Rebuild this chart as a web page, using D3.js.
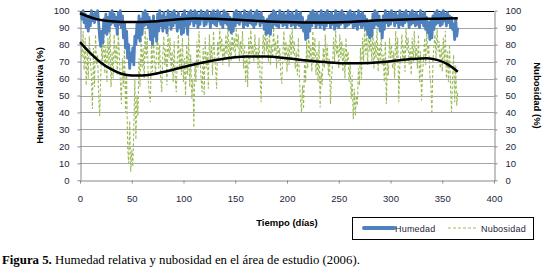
<!DOCTYPE html>
<html>
<head>
<meta charset="utf-8">
<script src="https://cdn.jsdelivr.net/npm/d3@7"></script>
<style>
  body { margin: 0; background: #fff; }
  svg { display: block; }
</style>
</head>
<body>
<div id="chart"></div>
<script>
// humedad relativa diaria (%), dias 1..365
const humedad = [
  99,95,100,93,98,90,96,88,97,91,
  100,94,98,93,99,95,100,93,84,79,
  88,81,95,87,98,86,96,88,99,92,
  100,93,98,91,96,86,99,92,100,90,
  97,84,93,78,88,72,80,66,75,70,
  78,68,85,80,92,84,97,82,95,86,
  99,91,100,92,98,90,96,83,94,80,
  97,85,93,82,98,88,100,91,97,88,
  99,90,96,87,100,92,98,89,99,91,
  100,93,97,88,99,90,96,86,98,87,
  100,91,97,86,99,92,100,94,98,91,
  100,93,99,90,97,92,100,95,98,91,
  99,92,100,94,97,90,99,93,100,92,
  98,91,100,94,99,92,97,90,100,93,
  99,92,98,89,96,87,95,88,99,91,
  100,93,98,92,99,94,97,90,100,92,
  98,91,99,93,100,92,97,90,99,92,
  100,94,98,91,99,93,96,89,94,86,
  95,87,97,86,98,90,100,92,99,91,
  97,90,100,93,98,91,99,92,97,90,
  100,93,98,91,99,92,97,90,100,92,
  98,91,99,90,96,88,93,83,94,84,
  97,88,99,91,100,93,98,90,99,92,
  97,90,100,92,98,89,99,91,100,93,
  98,90,99,92,97,89,100,91,98,90,
  99,92,100,93,98,90,97,91,99,92,
  100,93,98,90,99,91,97,89,100,92,
  98,90,99,91,97,89,95,86,93,84,
  94,85,98,90,100,92,99,91,97,88,
  93,84,97,89,100,93,98,91,99,92,
  100,94,98,91,99,93,97,90,100,92,
  98,91,99,93,100,94,97,90,99,92,
  100,93,98,91,99,92,97,90,100,93,
  98,91,99,89,96,87,93,83,94,84,
  97,89,99,92,100,93,98,91,99,92,
  100,94,98,91,99,93,97,90,96,89,
  92,83,95,85,90
]

// nubosidad diaria (%), dias 1..365
const nubosidad = [
  80,72,88,65,84,56,76,60,85,70,
  62,42,78,55,86,68,74,50,38,60,
  82,70,88,63,79,58,84,66,92,55,
  76,60,86,70,80,62,88,74,58,45,
  72,55,80,40,62,20,10,35,5,18,
  8,30,60,24,50,38,72,55,84,66,
  78,60,90,72,84,58,50,46,80,64,
  86,70,62,76,88,66,80,60,52,74,
  85,68,78,56,90,72,84,64,76,58,
  82,60,52,70,86,66,78,62,84,58,
  72,50,80,62,86,55,74,48,60,31,
  70,58,82,66,88,72,60,52,78,50,
  84,66,76,54,86,70,80,62,88,74,
  66,54,82,72,90,76,84,68,80,72,
  86,74,92,67,82,70,88,76,84,72,
  90,78,86,70,82,74,88,66,80,58,
  76,55,84,68,90,74,80,70,86,72,
  78,66,84,60,46,70,86,74,92,76,
  84,70,88,68,80,72,90,76,82,66,
  86,70,78,62,57,74,88,70,82,64,
  80,68,86,72,90,74,82,66,76,62,
  84,60,48,40,56,42,70,58,82,66,
  86,72,80,64,88,70,84,62,76,58,
  82,43,64,56,78,66,86,70,80,62,
  72,45,60,68,84,70,88,74,80,66,
  86,72,82,64,78,60,84,68,76,58,
  70,48,62,36,54,38,50,44,66,56,
  78,60,84,70,90,74,86,68,92,76,
  84,70,88,66,82,72,90,64,80,70,
  86,68,74,58,82,45,70,62,84,72,
  80,66,76,60,88,72,84,46,68,74,
  86,70,80,64,90,76,84,68,78,62,
  84,70,88,72,80,66,86,58,76,47,
  64,72,84,68,88,74,80,62,56,39,
  70,80,86,72,90,76,82,66,78,64,
  84,70,88,60,76,58,80,54,40,62,
  74,46,68,44,52
]

// lineas de tendencia (dia, valor)
const tendenciaHumedad = [
  [0,98.5],[15,95.2],[30,93.8],[50,93.3],[70,93.6],[90,94.6],[110,95.4],
  [130,95.2],[165,94.2],[200,93.3],[230,93.0],[260,93.4],[290,94.3],
  [320,95.0],[345,95.3],[365,95.6]
]
const tendenciaNubosidad = [
  [0,81.5],[10,75],[20,69.5],[30,65.5],[40,62.8],[50,61.8],[60,61.8],
  [70,62.5],[80,63.8],[90,65.2],[100,66.8],[120,69.6],[140,71.8],[160,73],
  [180,73],[200,72],[220,70.6],[240,69.5],[260,69],[280,69.2],[300,70.2],
  [320,71.5],[335,72],[345,71],[355,68.5],[365,64]
]

const xTicks = [0,50,100,150,200,250,300,350,400]
const yTicks = [0,10,20,30,40,50,60,70,80,90,100]

const width = 548
const height = 271
const plot = { left: 80, right: 494, top: 10.7, bottom: 180.3 }

const svg = d3.select("#chart").append("svg")
  .attr("width", width)
  .attr("height", height)
  .style("font-family", "'Liberation Sans', Arial, sans-serif")

const x = d3.scaleLinear().domain([0, 400]).range([plot.left, plot.right])
const yL = d3.scaleLinear().domain([0, 100]).range([plot.bottom, plot.top])
const yR = d3.scaleLinear().domain([0, 100]).range([plot.bottom, plot.top])

const axisGray = "#888"
const labelColor = "#1e1e3c"

// gridlines
svg.append("g").selectAll("line")
  .data(yTicks.filter(d => d > 0))
  .enter().append("line")
  .attr("x1", plot.left).attr("x2", plot.right)
  .attr("y1", d => Math.round(yL(d)) + 0.5)
  .attr("y2", d => Math.round(yL(d)) + 0.5)
  .attr("stroke", d => d === 100 ? "#000" : "#a6a6a6")
  .attr("stroke-width", 1)

// axes
const styleAxis = g => {
  g.select(".domain").attr("stroke", axisGray)
  g.selectAll(".tick line").attr("stroke", axisGray)
  g.selectAll(".tick text")
    .attr("fill", labelColor)
    .style("font-size", "9.5px")
    .style("font-family", "'Liberation Sans', Arial, sans-serif")
}

svg.append("g")
  .attr("transform", `translate(0,${Math.round(plot.bottom) + 0.5})`)
  .call(d3.axisBottom(x).tickValues(xTicks).tickSize(3).tickPadding(12).tickSizeOuter(0))
  .call(styleAxis)

svg.append("g")
  .attr("transform", `translate(${plot.left + 0.5},0)`)
  .call(d3.axisLeft(yL).tickValues(yTicks).tickSize(3).tickPadding(8).tickSizeOuter(0))
  .call(styleAxis)

svg.append("g")
  .attr("transform", `translate(${plot.right + 0.5},0)`)
  .call(d3.axisRight(yR).tickValues(yTicks).tickSize(3).tickPadding(8).tickSizeOuter(0))
  .call(styleAxis)

// series
const lineH = d3.line().x((d, i) => x(i + 1)).y(d => yL(d))
const lineN = d3.line().x((d, i) => x(i + 1)).y(d => yR(d))

svg.append("path")
  .datum(nubosidad)
  .attr("d", lineN)
  .attr("fill", "none")
  .attr("stroke", "#9BBB59")
  .attr("stroke-width", 1.1)
  .attr("stroke-dasharray", "3,2")

svg.append("path")
  .datum(humedad)
  .attr("d", lineH)
  .attr("fill", "none")
  .attr("stroke", "#4F81BD")
  .attr("stroke-width", 2.8)
  .attr("stroke-linejoin", "round")

const trend = d3.line().x(d => x(d[0])).y(d => yL(d[1])).curve(d3.curveMonotoneX)

svg.append("path")
  .datum(tendenciaHumedad)
  .attr("d", trend)
  .attr("fill", "none")
  .attr("stroke", "#000")
  .attr("stroke-width", 2.5)

svg.append("path")
  .datum(tendenciaNubosidad)
  .attr("d", trend)
  .attr("fill", "none")
  .attr("stroke", "#000")
  .attr("stroke-width", 2.5)

// axis titles
svg.append("text")
  .attr("transform", `translate(40,${(plot.top + plot.bottom) / 2}) rotate(-90)`)
  .attr("text-anchor", "middle")
  .attr("dominant-baseline", "middle")
  .style("font-size", "9.5px")
  .style("font-weight", "bold")
  .text("Humedad relativa (%)")

svg.append("text")
  .attr("transform", `translate(537,${(plot.top + plot.bottom) / 2}) rotate(90)`)
  .attr("text-anchor", "middle")
  .attr("dominant-baseline", "middle")
  .style("font-size", "9.5px")
  .style("font-weight", "bold")
  .text("Nubosidad (%)")

svg.append("text")
  .attr("x", (plot.left + plot.right) / 2)
  .attr("y", 226)
  .attr("text-anchor", "middle")
  .style("font-size", "9.5px")
  .style("font-weight", "bold")
  .text("Tiempo (días)")

// legend
const legend = svg.append("g")
legend.append("rect")
  .attr("x", 352.5).attr("y", 217.5)
  .attr("width", 181).attr("height", 22)
  .attr("fill", "#fff").attr("stroke", "#000").attr("stroke-width", 1)
legend.append("line")
  .attr("x1", 364).attr("x2", 394).attr("y1", 228).attr("y2", 228)
  .attr("stroke", "#4F81BD").attr("stroke-width", 4).attr("stroke-linecap", "round")
legend.append("text")
  .attr("x", 395).attr("y", 231.5)
  .style("font-size", "9px").attr("fill", labelColor)
  .style("letter-spacing", "0.2px")
  .text("Humedad")
legend.append("line")
  .attr("x1", 448).attr("x2", 477).attr("y1", 228).attr("y2", 228)
  .attr("stroke", "#9BBB59").attr("stroke-width", 1.1).attr("stroke-dasharray", "3,2")
legend.append("text")
  .attr("x", 481).attr("y", 231.5)
  .style("font-size", "9px").attr("fill", labelColor)
  .style("letter-spacing", "0.2px")
  .text("Nubosidad")

// caption
const caption = svg.append("text")
  .attr("x", 2).attr("y", 264)
  .style("font-family", "'Liberation Serif', 'Times New Roman', serif")
  .style("font-size", "12.8px")
caption.append("tspan").style("font-weight", "bold").text("Figura 5.")
caption.append("tspan").text(" Humedad relativa y nubosidad en el área de estudio (2006).")
</script>
</body>
</html>
